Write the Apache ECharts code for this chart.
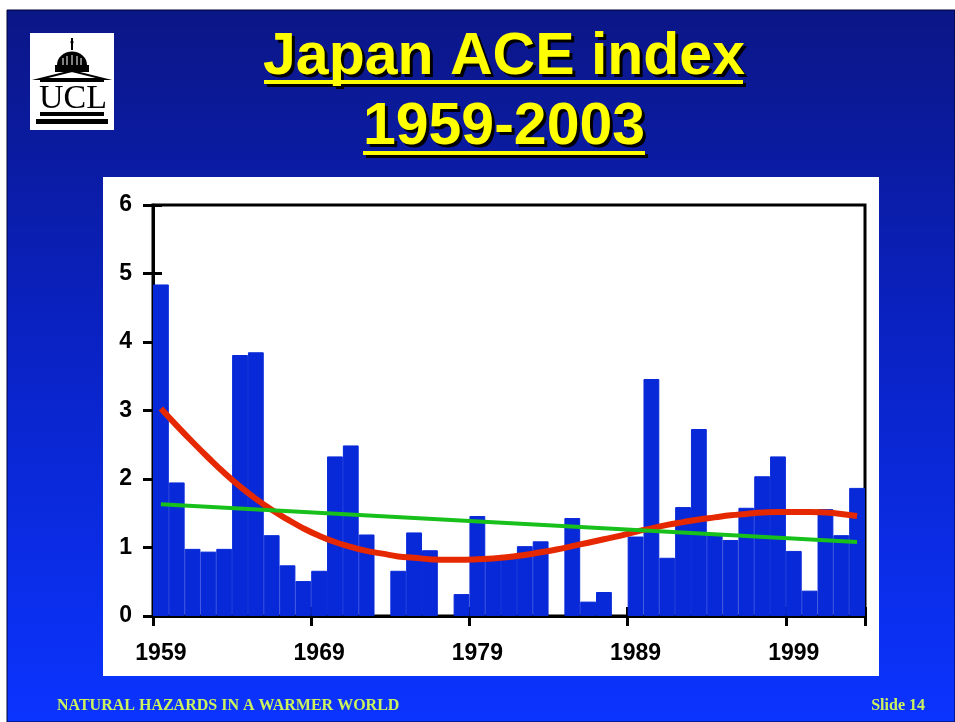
<!DOCTYPE html>
<html><head><meta charset="utf-8">
<script src="https://cdn.jsdelivr.net/npm/echarts@6/dist/echarts.min.js"></script>
<style>html,body{margin:0;padding:0;background:#fff}#c{width:955px;height:722px}</style>
</head><body><div id="c"></div>
<script>
// ---- data ----
const years = ['1959','1960','1961','1962','1963','1964','1965','1966','1967','1968',
  '1969','1970','1971','1972','1973','1974','1975','1976','1977','1978',
  '1979','1980','1981','1982','1983','1984','1985','1986','1987','1988',
  '1989','1990','1991','1992','1993','1994','1995','1996','1997','1998',
  '1999','2000','2001','2002','2003'];
const aceIndex = [4.84,1.95,0.98,0.94,0.98,3.81,3.85,1.18,0.74,0.51,
  0.66,2.33,2.49,1.19,0.00,0.66,1.22,0.96,0.00,0.32,
  1.46,0.85,0.85,1.02,1.09,0.00,1.43,0.21,0.35,0.00,
  1.16,3.46,0.85,1.59,2.73,1.19,1.11,1.58,2.04,2.33,
  0.95,0.37,1.56,1.18,1.87];
const polyTrend = [3.03,2.78,2.54,2.31,2.09,1.89,1.71,1.55,1.41,1.28,
  1.17,1.08,1.01,0.95,0.91,0.87,0.85,0.83,0.82,0.82,
  0.83,0.84,0.86,0.89,0.93,0.97,1.02,1.07,1.12,1.17,
  1.23,1.28,1.33,1.37,1.41,1.44,1.47,1.49,1.51,1.52,
  1.52,1.52,1.51,1.49,1.46];
const linearTrendEnds = [['1959', 1.63], ['2003', 1.08]];
const titleLines = ['Japan ACE index', '1959-2003'];
const footerLeft = 'NATURAL HAZARDS IN A WARMER WORLD';
const footerRight = 'Slide 14';

// ---- chart ----
const chart = echarts.init(document.getElementById('c'), null, {renderer: 'canvas'});
const labelFont = {color: '#000', fontWeight: 'bold', fontSize: 23, fontFamily: '"Liberation Sans", Arial, sans-serif'};
const yellowFont = 'bold 59px "Liberation Sans", Arial, sans-serif';
const barColor = '#0829d8';

function titleText(str, x, y) {
  return [
    {type: 'text', z: -5, style: {text: str, x: x + 3, y: y + 3, fill: '#000', font: yellowFont, align: 'center', verticalAlign: 'middle'}},
    {type: 'text', z: -4, style: {text: str, x: x, y: y, fill: '#ffff00', font: yellowFont, align: 'center', verticalAlign: 'middle'}}
  ];
}
function underline(x1, x2, y) {
  return [
    {type: 'rect', z: -5, shape: {x: x1 + 3, y: y + 3, width: x2 - x1, height: 4}, style: {fill: '#000'}},
    {type: 'rect', z: -4, shape: {x: x1, y: y, width: x2 - x1, height: 4}, style: {fill: '#ffff00'}}
  ];
}

const graphics = [
  {type: 'rect', z: -20, shape: {x: 7, y: 10, width: 948, height: 712},
    style: {fill: new echarts.graphic.LinearGradient(0, 0, 0, 1, [
      {offset: 0, color: '#0b1686'}, {offset: 0.45, color: '#0a22c2'}, {offset: 1, color: '#0b34ff'}]),
      stroke: '#000033', lineWidth: 1}},
  {type: 'rect', z: -19, shape: {x: 103, y: 177, width: 776, height: 499}, style: {fill: '#ffffff'}},
  // logo
  {type: 'rect', z: -19, shape: {x: 30, y: 33, width: 84, height: 97}, style: {fill: '#ffffff'}},
  {type: 'rect', z: -18, shape: {x: 71, y: 38, width: 2, height: 12}, style: {fill: '#000'}},
  {type: 'circle', z: -18, shape: {cx: 72, cy: 42, r: 1.6}, style: {fill: '#000'}},
  {type: 'sector', z: -18, shape: {cx: 72, cy: 65, r: 15, startAngle: Math.PI, endAngle: 2 * Math.PI}, scaleY: 0.9, originY: 65, style: {fill: '#000'}},
  {type: 'line', z: -17, shape: {x1: 63, y1: 58, x2: 63, y2: 65}, style: {stroke: '#fff', lineWidth: 1}},
  {type: 'line', z: -17, shape: {x1: 67, y1: 56, x2: 67, y2: 65}, style: {stroke: '#fff', lineWidth: 1}},
  {type: 'line', z: -17, shape: {x1: 72, y1: 55, x2: 72, y2: 65}, style: {stroke: '#fff', lineWidth: 1}},
  {type: 'line', z: -17, shape: {x1: 77, y1: 56, x2: 77, y2: 65}, style: {stroke: '#fff', lineWidth: 1}},
  {type: 'line', z: -17, shape: {x1: 81, y1: 58, x2: 81, y2: 65}, style: {stroke: '#fff', lineWidth: 1}},
  {type: 'rect', z: -18, shape: {x: 55, y: 65, width: 34, height: 7}, style: {fill: '#000'}},
  {type: 'polygon', z: -18, shape: {points: [[40, 79], [72, 71], [104, 79]]}, style: {fill: '#fff', stroke: '#000', lineWidth: 2}},
  {type: 'rect', z: -18, shape: {x: 40, y: 79, width: 64, height: 3}, style: {fill: '#000'}},
  {type: 'text', z: -18, style: {text: 'UCL', x: 73, y: 99, fill: '#000', font: '34px "Liberation Serif", "Times New Roman", serif', align: 'center', verticalAlign: 'middle'}},
  {type: 'rect', z: -18, shape: {x: 40, y: 112, width: 64, height: 4}, style: {fill: '#000'}},
  {type: 'rect', z: -18, shape: {x: 36, y: 119, width: 72, height: 5}, style: {fill: '#000'}},
  // footer
  {type: 'text', z: -18, style: {text: footerLeft, x: 57, y: 706, fill: '#ccf25c', font: 'bold 16px "Liberation Serif", "Times New Roman", serif', align: 'left', verticalAlign: 'middle'}},
  {type: 'text', z: -18, style: {text: footerRight, x: 925, y: 706, fill: '#ccf25c', font: 'bold 16px "Liberation Serif", "Times New Roman", serif', align: 'right', verticalAlign: 'middle'}}
]
.concat(titleText(titleLines[0], 504, 58))
.concat(underline(264, 743, 80))
.concat(titleText(titleLines[1], 504, 128))
.concat(underline(363, 645, 151));

const barData = aceIndex.map(v => v === 0 ? {value: v, itemStyle: {borderWidth: 0}} : v);

const option = {
  backgroundColor: '#ffffff',
  animation: false,
  graphic: {elements: graphics},
  grid: {left: 153, right: 90, top: 205, bottom: 106, show: true, borderColor: '#000', borderWidth: 3, backgroundColor: 'transparent'},
  xAxis: [
    {type: 'category', data: years, boundaryGap: true, position: 'bottom',
      axisLine: {show: true, lineStyle: {color: '#000', width: 3}},
      axisTick: {show: true, interval: 9, inside: false, length: 10, lineStyle: {color: '#000', width: 3}},
      axisLabel: Object.assign({interval: 9, margin: 26}, labelFont),
      splitLine: {show: false}},
    {type: 'category', data: years, boundaryGap: true, position: 'bottom',
      axisLine: {show: false},
      axisTick: {show: true, interval: 9, inside: true, length: 9, lineStyle: {color: '#000', width: 3}},
      axisLabel: {show: false}, splitLine: {show: false}}
  ],
  yAxis: [
    {type: 'value', min: 0, max: 6, interval: 1, position: 'left',
      axisLine: {show: true, lineStyle: {color: '#000', width: 3}},
      axisTick: {show: true, inside: false, length: 10, lineStyle: {color: '#000', width: 3}},
      axisLabel: Object.assign({margin: 21}, labelFont),
      splitLine: {show: false}},
    {type: 'value', min: 0, max: 6, interval: 1, position: 'left',
      axisLine: {show: false},
      axisTick: {show: true, inside: true, length: 9, lineStyle: {color: '#000', width: 3}},
      axisLabel: {show: false}, splitLine: {show: false}}
  ],
  series: [
    {type: 'bar', name: 'ACE', data: barData, barWidth: '100%', barCategoryGap: '0%',
      itemStyle: {color: barColor, borderColor: barColor, borderWidth: 1}, z: 2},
    {type: 'line', name: 'Polynomial trend', data: polyTrend, smooth: true, symbol: 'none',
      lineStyle: {color: '#e62800', width: 6}, z: 3},
    {type: 'line', name: 'Linear trend', data: linearTrendEnds, symbol: 'none',
      lineStyle: {color: '#18c01c', width: 4}, z: 4}
  ]
};
chart.setOption(option);
</script>
</body></html>
